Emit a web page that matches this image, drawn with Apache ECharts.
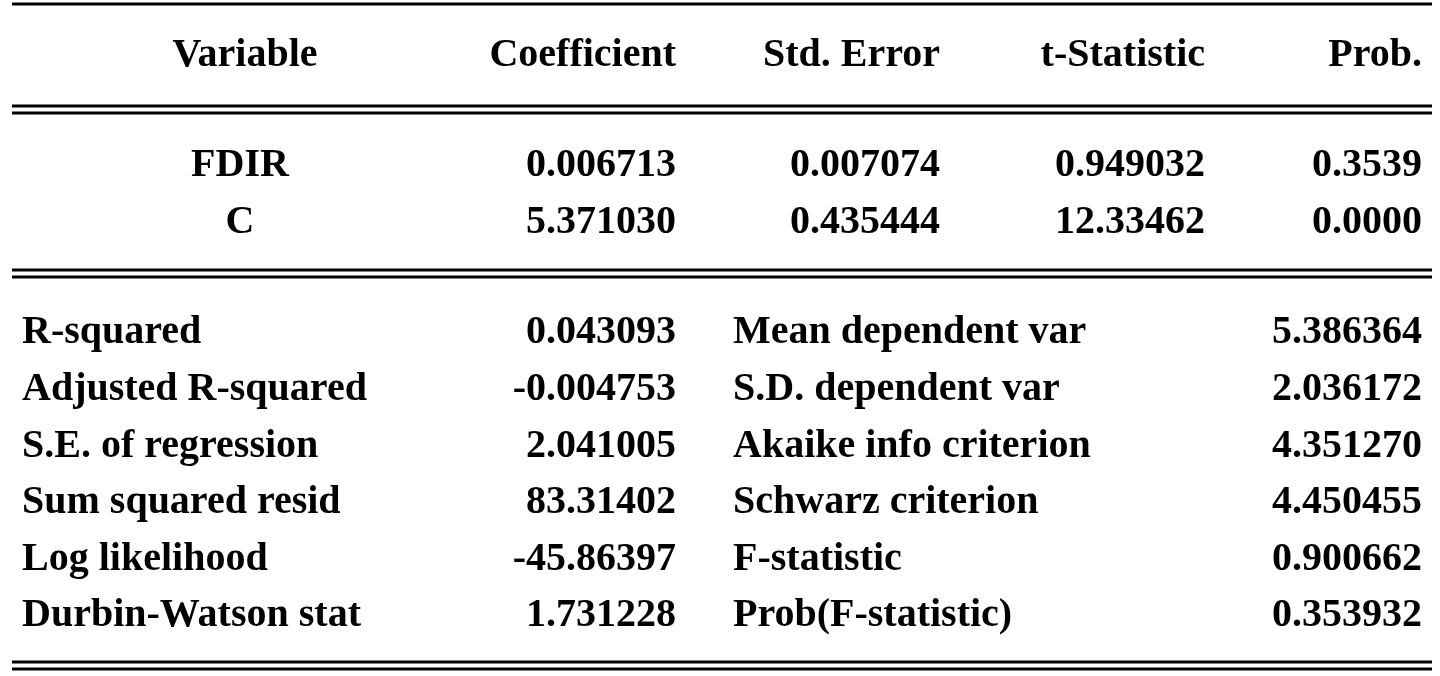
<!DOCTYPE html>
<html>
<head>
<meta charset="utf-8">
<script src="https://cdn.jsdelivr.net/npm/echarts@6/dist/echarts.min.js"></script>
<style>
  html, body { margin: 0; padding: 0; background: #fff; }
  #main { width: 1440px; height: 676px; }
</style>
</head>
<body>
<div id="main"></div>
<script>
// table contents
var headers = ['Variable', 'Coefficient', 'Std. Error', 't-Statistic', 'Prob.'];
var variables = ['FDIR', 'C'];
var coefficients = ['0.006713', '5.371030'];
var stdErrors = ['0.007074', '0.435444'];
var tStats = ['0.949032', '12.33462'];
var probs = ['0.3539', '0.0000'];

var leftLabels = ['R-squared', 'Adjusted R-squared', 'S.E. of regression',
    'Sum squared resid', 'Log likelihood', 'Durbin-Watson stat'];
var leftValues = ['0.043093', '-0.004753', '2.041005', '83.31402', '-45.86397', '1.731228'];
var rightLabels = ['Mean dependent var', 'S.D. dependent var', 'Akaike info criterion',
    'Schwarz criterion', 'F-statistic', 'Prob(F-statistic)'];
var rightValues = ['5.386364', '2.036172', '4.351270', '4.450455', '0.900662', '0.353932'];

var chart = echarts.init(document.getElementById('main'));

var font = 'bold 40px "Liberation Serif"';
var colRight = [null, 676, 940, 1205, 1422];
var elements = [];

function txt(s, x, y, align) {
    elements.push({
        type: 'text', x: x, y: y + 3,
        style: { text: s, font: font, fill: '#000', align: align, verticalAlign: 'middle' }
    });
}
function hline(y, w) {
    elements.push({
        type: 'line', shape: { x1: 12, y1: y, x2: 1432, y2: y },
        style: { stroke: '#000', lineWidth: w }
    });
}

hline(4, 3);
hline(106, 3); hline(113, 3);
hline(270, 3); hline(277, 3);
hline(662, 3); hline(669, 3);

txt(headers[0], 245, 53, 'center');
for (var c = 1; c < headers.length; c++) txt(headers[c], colRight[c], 53, 'right');

var rowY = [163, 220];
for (var i = 0; i < variables.length; i++) {
    txt(variables[i], 240, rowY[i], 'center');
    txt(coefficients[i], colRight[1], rowY[i], 'right');
    txt(stdErrors[i], colRight[2], rowY[i], 'right');
    txt(tStats[i], colRight[3], rowY[i], 'right');
    txt(probs[i], colRight[4], rowY[i], 'right');
}

for (var j = 0; j < leftLabels.length; j++) {
    var y = 330 + j * 56.6;
    txt(leftLabels[j], 22, y, 'left');
    txt(leftValues[j], 676, y, 'right');
    txt(rightLabels[j], 733, y, 'left');
    txt(rightValues[j], 1422, y, 'right');
}

chart.setOption({ animation: false, graphic: { elements: elements } });
</script>
</body>
</html>
